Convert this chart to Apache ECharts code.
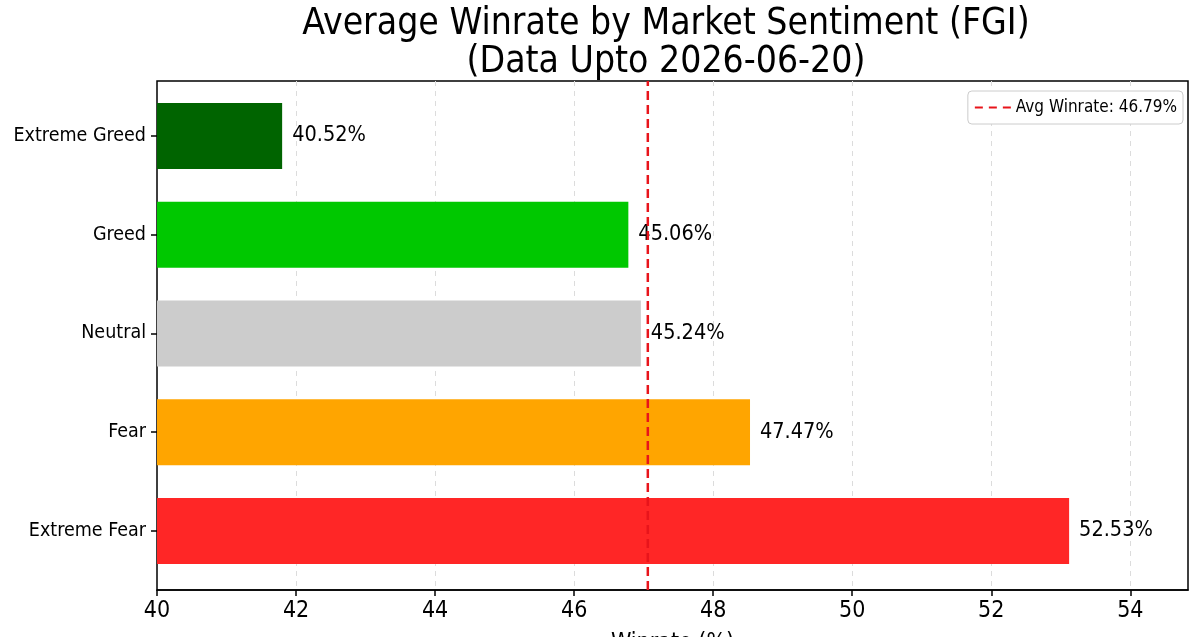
<!DOCTYPE html>
<html><head><meta charset="utf-8">
<script src="https://cdn.jsdelivr.net/npm/echarts@6/dist/echarts.min.js"></script>
<style>html,body{margin:0;padding:0;background:#fff}#c{width:1200px;height:637px}</style>
</head><body><div id="c"></div>
<script>
const categories = ['Extreme Greed', 'Greed', 'Neutral', 'Fear', 'Extreme Fear'];
const barValues = [41.80, 46.78, 46.96, 48.53, 53.12];
const barLabels = ['40.52%', '45.06%', '45.24%', '47.47%', '52.53%'];
const barColors = ['#006400', '#00c800', '#cccccc', '#ffa500', '#ff2626'];
const avgLinePos = 47.06;
const avgLegend = 'Avg Winrate: 46.79%';
const xTicks = [40, 42, 44, 46, 48, 50, 52, 54];

const FONT = "'DejaVu Sans Condensed', 'Liberation Sans Narrow', 'DejaVu Sans', sans-serif";
const chart = echarts.init(document.getElementById('c'), null, {renderer: 'canvas'});
const XMIN = 40, XMAX = 54.83;
chart.setOption({
  animation: false,
  backgroundColor: '#fff',
  title: {
    text: 'Average Winrate by Market Sentiment (FGI)\n(Data Upto 2026-06-20)',
    left: 661, textAlign: 'center', top: 0,
    textStyle: {fontFamily: FONT, fontSize: 37, fontWeight: 'normal', color: '#000', lineHeight: 38}
  },
  legend: {
    data: [{name: avgLegend, icon: 'path://M0,0h8v2h-8z M14,0h8v2h-8z M28,0h8v2h-8z'}],
    right: 17, top: 91, itemWidth: 36, itemHeight: 3, itemGap: 10,
    backgroundColor: '#fff', borderColor: '#cccccc', borderWidth: 1, borderRadius: 4,
    padding: [8, 6, 8, 7],
    textStyle: {fontFamily: FONT, fontSize: 17, color: '#000'}
  },
  grid: [
    {left: 157, right: 12, top: 86.5, height: 493.8, containLabel: false, outerBoundsMode: 'none'},
    {left: 157, right: 12, top: 81, height: 509, show: true, borderColor: '#000', borderWidth: 1.5,
     backgroundColor: 'transparent', containLabel: false, outerBoundsMode: 'none'}
  ],
  xAxis: [
    {gridIndex: 0, type: 'value', min: XMIN, max: XMAX, show: false},
    {gridIndex: 1, type: 'value', min: XMIN, max: XMAX, interval: 2,
     axisLine: {show: true, lineStyle: {color: '#000', width: 1.5}},
     axisTick: {show: true, length: 6, lineStyle: {color: '#000', width: 1.5}},
     axisLabel: {fontFamily: FONT, fontSize: 23, color: '#000', margin: 10, showMaxLabel: false,
       formatter: v => (xTicks.indexOf(v) >= 0 ? String(v) : '')},
     splitLine: {show: true, showMinLine: false, showMaxLine: false,
       lineStyle: {color: '#dcdcdc', type: [5, 5], width: 1}},
     name: 'Winrate (%)', nameLocation: 'middle', nameGap: 42,
     nameTextStyle: {fontFamily: FONT, fontSize: 23, color: '#000', verticalAlign: 'top'}}
  ],
  yAxis: [
    {gridIndex: 0, type: 'category', data: categories, inverse: true,
     axisLine: {show: false},
     axisTick: {show: true, alignWithLabel: true, length: 6, lineStyle: {color: '#000', width: 1.5}},
     axisLabel: {fontFamily: FONT, fontSize: 19.5, color: '#000', margin: 11},
     splitLine: {show: false}},
    {gridIndex: 1, type: 'value', min: 0, max: 1, show: false}
  ],
  series: [
    {type: 'bar', xAxisIndex: 0, yAxisIndex: 0, barWidth: 66,
     data: barValues.map((v, i) => ({value: v, itemStyle: {color: barColors[i]}})),
     label: {show: true, position: 'right', distance: 10, fontFamily: FONT, fontSize: 21.5, color: '#000',
       formatter: p => barLabels[p.dataIndex]},
     z: 3},
    {type: 'line', name: avgLegend, xAxisIndex: 1, yAxisIndex: 1, symbol: 'none',
     color: '#e8141b',
     lineStyle: {color: '#e8141b', width: 2.5, type: [9, 5]},
     data: [[avgLinePos, 0], [avgLinePos, 1]], z: 4}
  ]
});
</script></body></html>
